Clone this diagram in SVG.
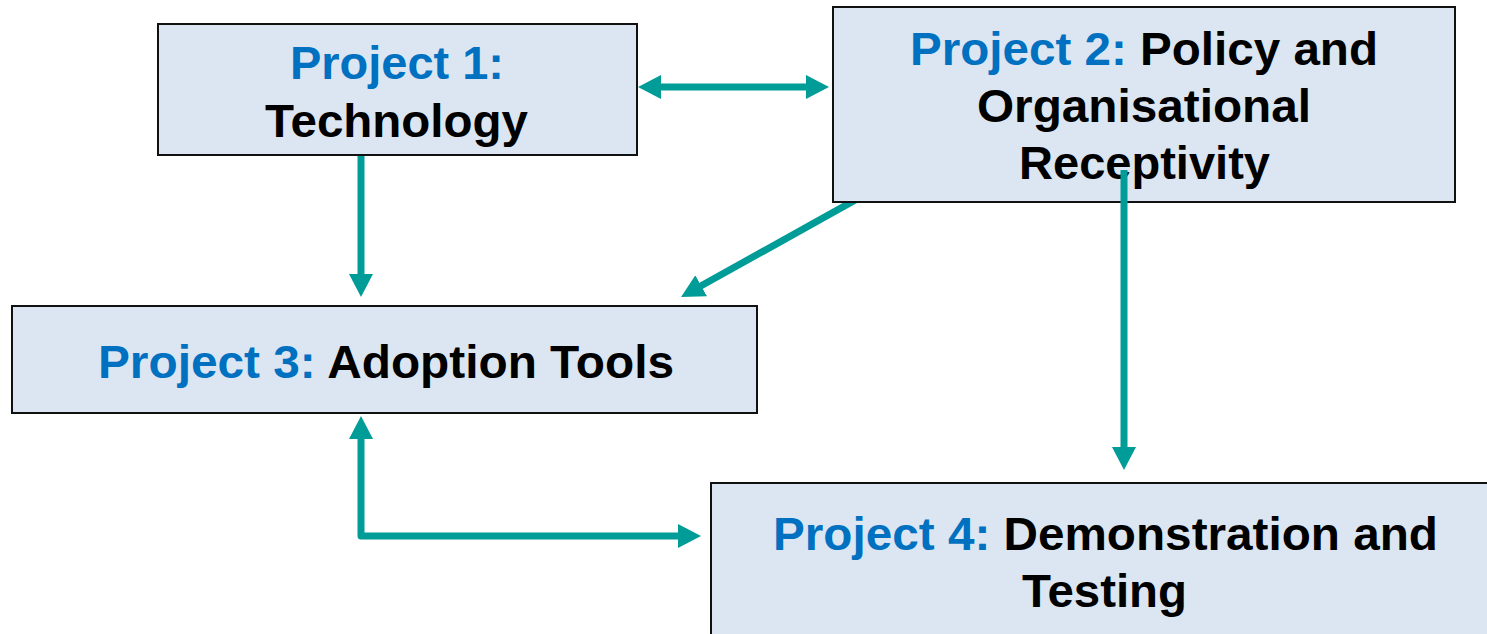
<svg xmlns="http://www.w3.org/2000/svg" width="1487" height="634" viewBox="0 0 1487 634">
  <style>
    .box { fill: #DCE6F2; stroke: #111; stroke-width: 2; }
    .lbl { font-family: "Liberation Sans", Arial, sans-serif; font-weight: bold; font-size: 46px; fill: #000; }
    .num { fill: #0070C0; }
    .conn { fill: none; stroke: #009C98; stroke-width: 7; stroke-linejoin: round; }
  </style>
  <defs>
    <marker id="head" markerUnits="userSpaceOnUse" markerWidth="23" markerHeight="24" viewBox="0 0 23 24" refX="2" refY="12" orient="auto-start-reverse">
      <path d="M0,0 L23,12 L0,24 z" fill="#009C98"/>
    </marker>
    <clipPath id="below-p2">
      <rect x="0" y="203" width="1487" height="431"/>
    </clipPath>
  </defs>

  <g id="project1">
    <rect class="box" x="158" y="24" width="479" height="131"/>
    <text class="lbl num" x="290" y="79" textLength="214" lengthAdjust="spacingAndGlyphs">Project 1:</text>
    <text class="lbl" x="265" y="137" textLength="263" lengthAdjust="spacingAndGlyphs">Technology</text>
  </g>

  <g id="project2">
    <rect class="box" x="833" y="7" width="622" height="195"/>
    <text class="lbl" x="910" y="65" textLength="468" lengthAdjust="spacingAndGlyphs"><tspan class="num">Project 2:</tspan> Policy and</text>
    <text class="lbl" x="977" y="122" textLength="334" lengthAdjust="spacingAndGlyphs">Organisational</text>
    <text class="lbl" x="1019" y="179" textLength="251" lengthAdjust="spacingAndGlyphs">Receptivity</text>
  </g>

  <g id="project3">
    <rect class="box" x="12" y="306" width="745" height="107"/>
    <text class="lbl" x="98" y="378" textLength="576" lengthAdjust="spacingAndGlyphs"><tspan class="num">Project 3:</tspan> Adoption Tools</text>
  </g>

  <g id="project4">
    <rect class="box" x="711" y="483" width="790" height="170"/>
    <text class="lbl" x="773" y="550" textLength="665" lengthAdjust="spacingAndGlyphs"><tspan class="num">Project 4:</tspan> Demonstration and</text>
    <text class="lbl" x="1022" y="607" textLength="165" lengthAdjust="spacingAndGlyphs">Testing</text>
  </g>

  <g id="connectors">
    <!-- Project 1 <-> Project 2 -->
    <path class="conn" d="M659,87 L808,87" marker-start="url(#head)" marker-end="url(#head)"/>
    <!-- Project 1 -> Project 3 -->
    <path class="conn" d="M361,156 L361,276" marker-end="url(#head)"/>
    <!-- Project 2 -> Project 3 -->
    <path class="conn" d="M866,194 L699.4,286.8" clip-path="url(#below-p2)" marker-end="url(#head)"/>
    <!-- Project 2 -> Project 4 -->
    <path class="conn" d="M1124,170 L1124,449" marker-end="url(#head)"/>
    <!-- Project 3 <-> Project 4 -->
    <path class="conn" d="M361,437 L361,536 L680,536" marker-start="url(#head)" marker-end="url(#head)"/>
  </g>
</svg>
